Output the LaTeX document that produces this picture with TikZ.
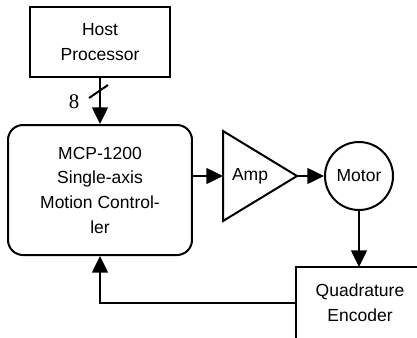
\documentclass[tikz,border=0pt]{standalone}
\usepackage{fontspec}
\setmainfont{Liberation Sans}
\newfontfamily\numfont{Liberation Serif}
\usetikzlibrary{arrows.meta,positioning}
\begin{document}
\begin{tikzpicture}[x=0.6pt,y=-0.6pt,>={Triangle[length=10pt,width=9.5pt]},line width=1.2pt,
   font=\fontsize{10.5}{14.8}\selectfont,
   blk/.style={draw,align=center,inner sep=0pt},
   busnum/.style={font=\numfont\fontsize{12.5}{12}\selectfont,inner sep=0pt}]
  \useasboundingbox (0,0) rectangle (417,337);
  \clip (0,0) rectangle (417,337);
  \node[blk,rounded corners=9pt,minimum width=110.4pt,minimum height=78pt] (ctrl) at (100,190) {MCP-1200\\Single-axis\\Motion Control-\\ler};
  \node[blk,minimum width=84pt,minimum height=42pt,above=27.6pt of ctrl] (host) {Host\\Processor};
  \coordinate (ampin) at (223,176);
  \coordinate (ampout) at (297,176);
  \draw (ampin) ++(0,-45) -- (ampout) -- ++(-74,45) -- cycle;
  \node (amp) at (250,176) {Amp};
  \node[blk,circle,minimum size=40.8pt] (motor) at (359,176) {Motor};
  \node[align=center,inner sep=0pt,minimum width=75.6pt,minimum height=42pt] (enc) at (360,303) {Quadrature\\Encoder};
  \draw (enc.south west) ++(0,10) -- (enc.north west) -- ++(140,0);
  \coordinate[below=7.8pt of host.south] (bus);
  \draw[->] (host) -- (ctrl);
  \draw (bus) ++(-11,7) -- ++(19,-13);
  \node[busnum] (width) at (74,102) {8};
  \draw[->] (ampin -| ctrl.east) -- (ampin);
  \draw[->] (ampout) -- (motor);
  \draw[->] (motor) -- (motor |- enc.north);
  \draw[->] (enc.west) -| (ctrl.south);
\end{tikzpicture}
\end{document}
